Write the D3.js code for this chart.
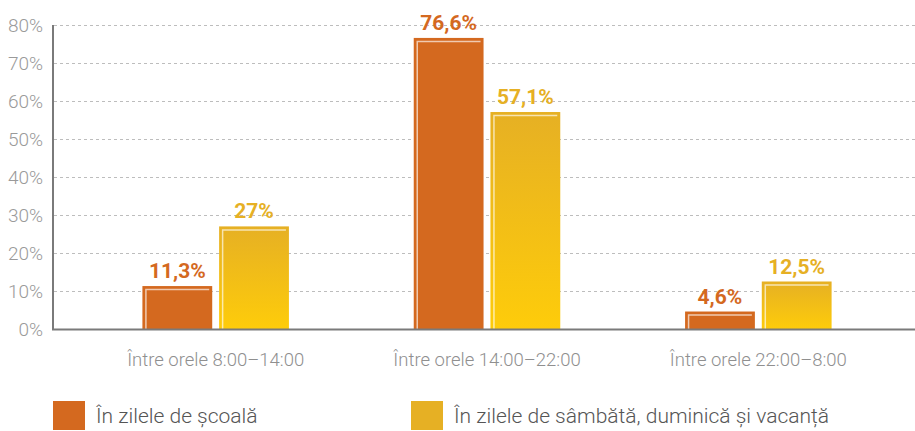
<!DOCTYPE html>
<html>
<head>
<meta charset="utf-8">
<script src="https://cdn.jsdelivr.net/npm/d3@7/dist/d3.min.js"></script>
<style>
  html, body { margin: 0; padding: 0; background: #fff; }
  svg { display: block; }
</style>
</head>
<body>
<svg id="chart" width="915" height="431"></svg>
<script>
const categories = ["Între orele 8:00–14:00", "Între orele 14:00–22:00", "Între orele 22:00–8:00"];
const seriesNames = ["În zilele de școală", "În zilele de sâmbătă, duminică și vacanță"];
const schoolDays = [11.3, 76.6, 4.6];
const weekendDays = [27, 57.1, 12.5];
const valueLabelsSchool = ["11,3%", "76,6%", "4,6%"];
const valueLabelsWeekend = ["27%", "57,1%", "12,5%"];
const yTicks = [0, 10, 20, 30, 40, 50, 60, 70, 80];

const svg = d3.select("#chart");
const font = "Roboto, 'Noto Sans', sans-serif";

const y = d3.scaleLinear().domain([0, 80]).range([329, 25]);
const x0 = d3.scaleBand().domain(categories).range([80, 894]).paddingInner(0.46).paddingOuter(0.23);
const x1 = d3.scaleBand().domain([0, 1]).range([0, x0.bandwidth()]).paddingInner(0.09);

const defs = svg.append("defs");
const grad = defs.append("linearGradient").attr("id", "yellowGrad").attr("x1", 0).attr("y1", 0).attr("x2", 0).attr("y2", 1);
grad.append("stop").attr("offset", "0%").attr("stop-color", "#E6B024");
grad.append("stop").attr("offset", "100%").attr("stop-color", "#FECC0A");

// gridlines
svg.append("g").selectAll("line").data(yTicks.filter(d => d > 0)).join("line")
  .attr("x1", 54).attr("x2", 915)
  .attr("y1", d => Math.round(y(d)) + 0.5).attr("y2", d => Math.round(y(d)) + 0.5)
  .attr("stroke", "#bdbdbd").attr("stroke-width", 1.2).attr("stroke-dasharray", "3,3");

// y axis
const yAxis = d3.axisLeft(y).tickValues(yTicks).tickSize(0).tickPadding(10).tickFormat(d => d + "%");
const yg = svg.append("g").attr("transform", "translate(53,0)").call(yAxis);
yg.select(".domain").remove();
yg.selectAll("text").attr("fill", "#9a9a9a").attr("font-family", font).attr("font-weight", 300).attr("font-size", 19);
svg.append("line").attr("x1", 53).attr("x2", 53).attr("y1", 25).attr("y2", 330).attr("stroke", "#7a7a7a").attr("stroke-width", 2);

const data = categories.map((c, i) => ({ cat: c, vals: [
  { s: 0, v: schoolDays[i], lab: valueLabelsSchool[i] },
  { s: 1, v: weekendDays[i], lab: valueLabelsWeekend[i] }
]}));

const fills = ["#D4691F", "url(#yellowGrad)"];
const labelColors = ["#D4691F", "#E6B024"];

const groups = svg.append("g").selectAll("g").data(data).join("g")
  .attr("transform", d => `translate(${x0(d.cat)},0)`);

groups.selectAll("rect").data(d => d.vals).join("rect")
  .attr("x", d => x1(d.s)).attr("width", x1.bandwidth())
  .attr("y", d => y(d.v)).attr("height", d => y(0) - y(d.v))
  .attr("fill", d => fills[d.s]);

groups.selectAll("path.hl").data(d => d.vals).join("path").attr("class", "hl")
  .attr("d", d => {
    const xl = x1(d.s) + 3.5, xr = x1(d.s) + x1.bandwidth() - 3, yt = y(d.v) + 3.5;
    return `M${xl},${y(0)}L${xl},${yt}L${xr},${yt}`;
  })
  .attr("fill", "none").attr("stroke", "rgba(255,255,255,0.65)").attr("stroke-width", 1.5);

groups.selectAll("text").data(d => d.vals).join("text")
  .attr("x", d => x1(d.s) + x1.bandwidth() / 2).attr("y", d => y(d.v) - 8)
  .attr("text-anchor", "middle").attr("font-family", font).attr("font-weight", 700).attr("font-size", 21)
  .attr("fill", d => labelColors[d.s]).text(d => d.lab);

// baseline
svg.append("line").attr("x1", 52).attr("x2", 915).attr("y1", y(0) + 0.5).attr("y2", y(0) + 0.5)
  .attr("stroke", "#7a7a7a").attr("stroke-width", 2);

// x axis labels
const xAxis = d3.axisBottom(x0).tickSize(0).tickPadding(24);
const xg = svg.append("g").attr("transform", `translate(0,${y(0)})`).call(xAxis);
xg.select(".domain").remove();
xg.selectAll("text").attr("fill", "#8f8f8f").attr("font-family", font).attr("font-weight", 300).attr("font-size", 18.5);

// legend
const legendX = [53, 411];
const lg = svg.append("g").selectAll("g").data(seriesNames).join("g")
  .attr("transform", (d, i) => `translate(${legendX[i]},401)`);
lg.append("rect").attr("width", 32).attr("height", 29).attr("fill", (d, i) => i === 0 ? "#D4691F" : "#E6B024");
lg.append("text").attr("x", 43).attr("y", 22).attr("font-family", font).attr("font-weight", 300)
  .attr("font-size", 21).attr("fill", "#555").text(d => d);
</script>
</body>
</html>
